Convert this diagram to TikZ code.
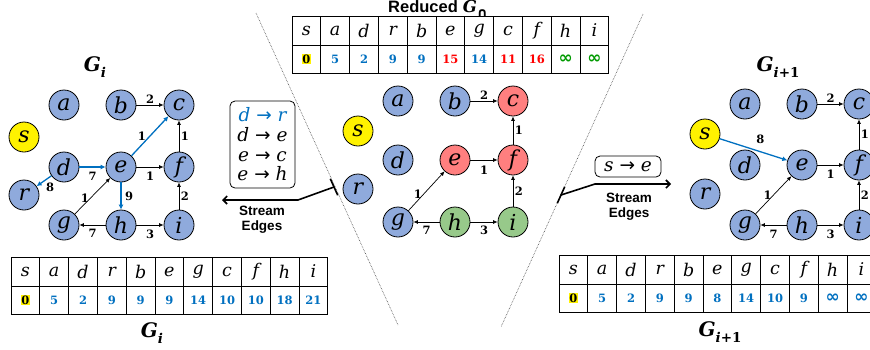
\documentclass[tikz,border=0pt]{standalone}
\usepackage{fontspec}
\newfontfamily\arialfont{Liberation Sans}
\newfontfamily\vf{DejaVu Serif}
\newfontfamily\symf{DejaVu Sans}
\usetikzlibrary{arrows.meta}
\definecolor{nodeblue}{HTML}{8FAADC}
\definecolor{nodered}{HTML}{FF7F7F}
\definecolor{nodegreen}{HTML}{97C98A}
\definecolor{edgeblue}{HTML}{0070C0}
\definecolor{valred}{HTML}{FF0000}
\definecolor{valgreen}{HTML}{009A00}
\newcommand\hlz{{\setlength{\fboxsep}{0.6pt}\colorbox{yellow}{0}}}
\newcommand\binf{{\symf\bfseries\fontsize{17}{17}\selectfont ∞}}
\newcommand\ra{{\symf\upshape →}}
\newcommand\Gsub[1]{{\vf\bfseries\itshape G}\raisebox{-0.3em}{\fontsize{13.5}{13.5}\selectfont\vf\bfseries #1}}
\newcommand\disttable[4]{%
  \foreach \nm [count=\k from 0] in {s,a,d,r,b,e,g,c,f,h,i}{
    \node[hcell] (#1-h\k) at ({#2+\k*28.8+14.4},{#3+14.5}) {\nm};
  }
  \foreach \v/\cl [count=\k from 0] in {#4}{
    \node[vcell,text=\cl] (#1-v\k) at ({#2+\k*28.8+14.4},{#3+29+14}) {\v};
  }
}
\begin{document}
\begin{tikzpicture}[x=1pt,y=-1pt,
  gnode/.style={circle,draw=black,line width=0.8pt,minimum size=30pt,inner sep=0pt,font=\vf\itshape\fontsize{22}{22}\selectfont},
  bluen/.style={gnode,fill=nodeblue},
  redn/.style={gnode,fill=nodered},
  greenn/.style={gnode,fill=nodegreen},
  yelln/.style={gnode,fill=yellow},
  arr/.style={-{Latex[length=4.5pt,width=4pt]},line width=0.7pt},
  barr/.style={draw=edgeblue,line width=1.3pt,-{Latex[length=5pt,width=5pt]}},
  lbl/.style={font=\vf\bfseries\fontsize{11.5}{11.5}\selectfont,inner sep=1.5pt,text=black},
  hcell/.style={draw,line width=1pt,fill=white,minimum width=28.8pt,minimum height=29pt,inner sep=0pt,font=\vf\itshape\fontsize{17.5}{17.5}\selectfont},
  vcell/.style={draw=black,line width=1pt,fill=white,minimum width=28.8pt,minimum height=28pt,inner sep=0pt,font=\vf\bfseries\fontsize{11.5}{11.5}\selectfont},
  gtitle/.style={font=\fontsize{20}{20}\selectfont,inner sep=0pt},
  sepline/.style={densely dotted,line width=0.6pt,black!75},
  stream/.style={line width=1.6pt,-{Straight Barb[length=4pt,width=8pt]}},
  ticks/.style={line width=1.6pt},
  slabel/.style={font=\arialfont\bfseries\fontsize{13.5}{15}\selectfont,align=center,inner sep=0pt},
  sbox/.style={draw,rounded corners=5pt,line width=0.8pt,font=\vf\itshape\fontsize{18.5}{19.7}\selectfont,align=center,inner sep=2pt}
]
\clip (0,0) rectangle (870,349);

% separators
\coordinate (sepLa) at (256,13);
\coordinate (sepLb) at (398,325);
\coordinate (sepRa) at (643,14);
\coordinate (sepRb) at (501,327);
\draw[sepline] (sepLa) -- (sepLb);
\draw[sepline] (sepRa) -- (sepRb);

% ---------- left graph G_i ----------
\begin{scope}[shift={(64,105)}]
\node[bluen] (La) at (0,0) {a};
\node[bluen] (Lb) at (57,0) {b};
\node[bluen] (Lc) at (115,0) {c};
\node[yelln] (Ls) at (-40,32) {s};
\node[bluen] (Ld) at (0,62) {d};
\node[bluen] (Le) at (57,62) {e};
\node[bluen] (Lf) at (115,62) {f};
\node[bluen] (Lr) at (-40,90) {r};
\node[bluen] (Lg) at (0,120) {g};
\node[bluen] (Lh) at (57,120) {h};
\node[bluen] (Li) at (115,120) {i};
\end{scope}
\draw[arr] (Lb) -- node[lbl,above]{2} (Lc);
\draw[barr] (Le) -- node[lbl,left=2pt]{1} (Lc);
\draw[arr] (Lf) -- node[lbl,right]{1} (Lc);
\draw[barr] (Ld) -- node[lbl,below=3pt]{7} (Le);
\draw[arr] (Le) -- node[lbl,below=3pt]{1} (Lf);
\draw[barr] (Ld) -- node[lbl,below right=0pt]{8} (Lr);
\draw[barr] (Le) -- node[lbl,right=2pt]{9} (Lh);
\draw[arr] (Lg) -- node[lbl,left,pos=0.45]{1} (Le);
\draw[arr] (Li) -- node[lbl,right]{2} (Lf);
\draw[arr] (Lh) -- node[lbl,below=2pt]{7} (Lg);
\draw[arr] (Lh) -- node[lbl,below=3pt]{3} (Li);
\node[gtitle] (tLtop) at (95,67) {\Gsub{\itshape i}};

% ---------- center reduced graph ----------
\begin{scope}[shift={(398,101)}]
\node[bluen] (Ca) at (0,0) {a};
\node[bluen] (Cb) at (57,0) {b};
\node[redn] (Cc) at (115,0) {c};
\node[yelln] (Cs) at (-40,30) {s};
\node[bluen] (Cd) at (0,59) {d};
\node[redn] (Ce) at (57,59) {e};
\node[redn] (Cf) at (115,59) {f};
\node[bluen] (Cr) at (-40,88) {r};
\node[bluen] (Cg) at (0,121) {g};
\node[greenn] (Ch) at (57,121) {h};
\node[greenn] (Ci) at (115,121) {i};
\end{scope}
\draw[arr] (Cb) -- node[lbl,above]{2} (Cc);
\draw[arr] (Cf) -- node[lbl,right]{1} (Cc);
\draw[arr] (Ce) -- node[lbl,below=4pt]{1} (Cf);
\draw[arr] (Cg) -- node[lbl,left,pos=0.42]{1} (Ce);
\draw[arr] (Ci) -- node[lbl,right]{2} (Cf);
\draw[arr] (Ch) -- node[lbl,below=2pt]{7} (Cg);
\draw[arr] (Ch) -- node[lbl,below=2pt]{3} (Ci);

% ---------- right graph G_{i+1} ----------
\begin{scope}[shift={(745,104)}]
\node[bluen] (Ra) at (0,0) {a};
\node[bluen] (Rb) at (57,0) {b};
\node[bluen] (Rc) at (114,0) {c};
\node[yelln] (Rs) at (-40,30) {s};
\node[bluen] (Rd) at (0,61) {d};
\node[bluen] (Re) at (57,61) {e};
\node[bluen] (Rf) at (114,61) {f};
\node[bluen] (Rr) at (-40,90) {r};
\node[bluen] (Rg) at (0,121) {g};
\node[bluen] (Rh) at (57,121) {h};
\node[bluen] (Ri) at (114,121) {i};
\end{scope}
\draw[barr] (Rs) -- node[lbl,above=6pt,pos=0.6]{8} (Re);
\draw[arr] (Rb) -- node[lbl,above]{2} (Rc);
\draw[arr] (Rf) -- node[lbl,right]{1} (Rc);
\draw[arr] (Re) -- node[lbl,below=3pt]{1} (Rf);
\draw[arr] (Rg) -- node[lbl,left]{1} (Re);
\draw[arr] (Ri) -- node[lbl,right]{2} (Rf);
\draw[arr] (Rh) -- node[lbl,below=3pt]{7} (Rg);
\draw[arr] (Rh) -- node[lbl,below=3pt]{3} (Ri);
\node[gtitle] (tRtop) at (778,67) {\Gsub{{\itshape i}+1}};

% ---------- tables ----------
\node[anchor=base west,inner sep=0pt,font=\fontsize{16.5}{16.5}\selectfont] (tRed) at (388,12.5) {{\arialfont\bfseries Reduced} \Gsub{\symf ∩}};
\disttable{TC}{292}{16}{\hlz/black,5/edgeblue,2/edgeblue,9/edgeblue,9/edgeblue,15/valred,14/edgeblue,11/valred,16/valred,\binf/valgreen,\binf/valgreen}
\disttable{TL}{11}{257}{\hlz/black,5/edgeblue,2/edgeblue,9/edgeblue,9/edgeblue,9/edgeblue,14/edgeblue,10/edgeblue,10/edgeblue,18/edgeblue,21/edgeblue}
\disttable{TR}{559}{255}{\hlz/black,5/edgeblue,2/edgeblue,9/edgeblue,9/edgeblue,8/edgeblue,14/edgeblue,10/edgeblue,9/edgeblue,\binf/edgeblue,\binf/edgeblue}
\node[gtitle] (tLbot) at (152,333) {\Gsub{\itshape i}};
\node[gtitle] (tRbot) at (720,332) {\Gsub{{\itshape i}+1}};

% ---------- stream edges ----------
\node[sbox,minimum width=65pt,minimum height=87pt] (lbox) at (262.5,144.5)
  {\textcolor{edgeblue}{d \ra{} r}\\d \ra{} e\\e \ra{} c\\e \ra{} h};
\node[sbox,minimum width=66pt,minimum height=21pt,inner sep=1pt] (rbox) at (628,166.5) {s \ra{} e};
\node[slabel] (slL) at (262,220) {Stream\\Edges};
\node[slabel] (slR) at (629,207) {Stream\\Edges};

\coordinate (ltkA) at (330.3,178.8);
\coordinate (ltkB) at (337.7,195.2);
\coordinate (ltk) at (334,187);
\coordinate (lbend) at (298,200);
\coordinate (lend) at (222,200);
\draw[ticks] (ltkA) -- (ltkB);
\draw[stream] (ltk) -- (lbend) -- (lend);

\coordinate (rtkA) at (564.7,186.8);
\coordinate (rtkB) at (557.3,203.2);
\coordinate (rtk) at (561,195);
\coordinate (rbend) at (595,184);
\coordinate (rend) at (671,184);
\draw[ticks] (rtkA) -- (rtkB);
\draw[stream] (rtk) -- (rbend) -- (rend);
\end{tikzpicture}
\end{document}
